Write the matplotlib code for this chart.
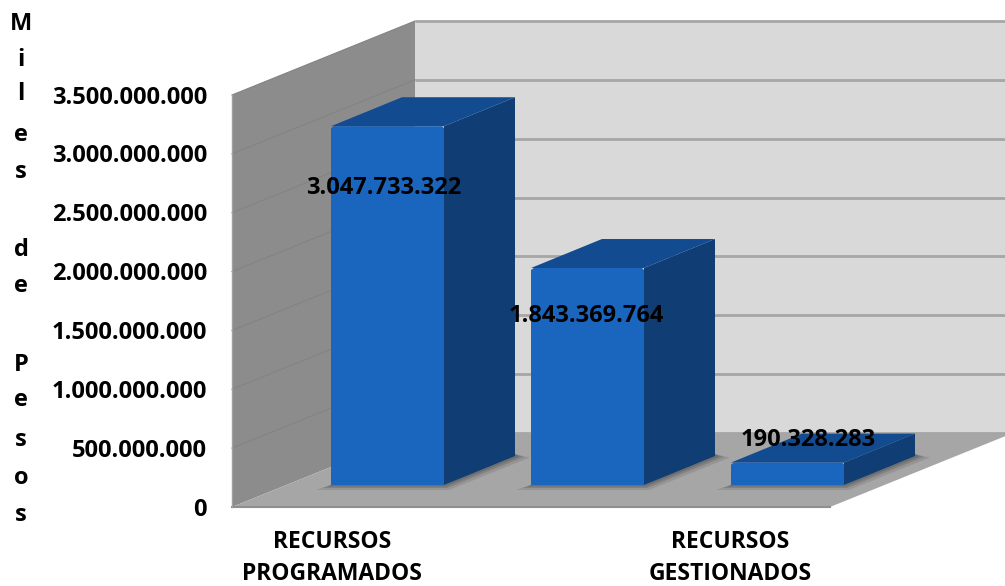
import matplotlib
matplotlib.use("Agg")
import matplotlib.pyplot as plt
from matplotlib.patches import Polygon

plt.rcParams['font.family'] = ['Open Sans', 'DejaVu Sans']

values = [3047733322, 1843369764, 190328283]
ticks = [0, 500000000, 1000000000, 1500000000, 2000000000, 2500000000, 3000000000, 3500000000]
cat_labels = ["RECURSOS\nPROGRAMADOS", "RECURSOS\nGESTIONADOS"]
axis_letters = list("Miles") + list("de") + list("Pesos")

# oblique projection, everything in pixels of the 1005x586 picture
x0, y0 = 232, 507
px_per_unit = 412 / 3.5e9
wall_dx, wall_dy = 183, -74
bar_left0, bar_step, bar_w = 331, 200, 113
bar_dx, bar_dy = 71, -29
bar_y0 = 485


def val_h(v):
    return v * px_per_unit


def poly(ax, pts, color, z, alpha=1.0):
    ax.add_patch(Polygon(pts, closed=True, facecolor=color, edgecolor='none', alpha=alpha, zorder=z))


fig = plt.figure(figsize=(10.05, 5.86), dpi=100)
ax = fig.add_axes([0, 0, 1, 1])
ax.set_xlim(0, 1005)
ax.set_ylim(586, 0)
ax.axis('off')

top = val_h(ticks[-1])
bx, by = x0 + wall_dx, y0 + wall_dy

# walls and floor
poly(ax, [(bx, by), (bx, by - top), (1005, by - top), (1005, by)], "#d9d9d9", 1)
poly(ax, [(x0, y0), (x0, y0 - top), (bx, by - top), (bx, by)], "#8c8c8c", 1)
poly(ax, [(x0, y0), (830, y0), (830 + 175, y0 + wall_dy * 175 / wall_dx), (1005, by), (bx, by)], "#a6a6a6", 2)

# gridlines
for t in ticks:
    h = val_h(t)
    ax.plot([bx, 1005], [by - h, by - h], color="#a6a6a6", lw=2, zorder=3, solid_capstyle='butt')
    if t > 0:
        ax.plot([x0, bx], [y0 - h, by - h], color="#838383", lw=0.8, zorder=3)
ax.plot([x0, 830], [y0, y0], color="#8f8f8f", lw=1.5, zorder=4)
ax.plot([x0, x0], [y0, y0 - top], color="#a0a0a0", lw=1, zorder=4)

# bars
for i, v in enumerate(values):
    l = bar_left0 + i * bar_step
    r = l + bar_w
    b = bar_y0
    t = b - val_h(v)
    # shadow
    for k, a in zip([5, 3, 1.5], [0.2, 0.3, 0.4]):
        poly(ax, [(l - 3 * k, b + k), (r + k, b + k), (r + bar_dx + 3 * k, b + bar_dy + k * 0.3), (r + bar_dx, b + bar_dy - 2), (r, b), (l, b)], "#555555", 5, a)
    poly(ax, [(r, b), (r, t), (r + bar_dx, t + bar_dy), (r + bar_dx, b + bar_dy)], "#103d74", 6)
    poly(ax, [(l, t), (l + bar_dx, t + bar_dy), (r + bar_dx, t + bar_dy), (r, t)], "#134b90", 6)
    poly(ax, [(l, b), (l, t + 2), (l + 3, t), (r - 2, t), (r, t + 2), (r, b)], "#1a65bd", 7)

# value labels
label_x = [384, 586, 808]
label_y = [188, 316, 440]
for v, lx, ly in zip(values, label_x, label_y):
    ax.text(lx, ly, f"{v:,}".replace(",", "."), ha='center', va='center',
            fontsize=17, fontweight='bold', color='black', zorder=10)

# tick labels
for t in ticks:
    ax.text(207, y0 - val_h(t) + 2.5, f"{t:,}".replace(",", "."), ha='right', va='center',
            fontsize=17, fontweight='bold', color='black', zorder=10)

# category labels
for lab, cx in zip(cat_labels, [332, 730]):
    ax.text(cx, 558, lab, ha='center', va='center', fontsize=16.5, fontweight='bold',
            color='black', linespacing=1.45, zorder=10)

# vertical axis title, one letter per line
letter_y = [24, 60, 94, 135, 172, 250, 286, 365, 400, 440, 478, 515]
for ch, ly in zip(axis_letters, letter_y):
    ax.text(21, ly, ch, ha='center', va='center', fontsize=17, fontweight='bold', color='black')

fig.savefig("out.png", dpi=100)
